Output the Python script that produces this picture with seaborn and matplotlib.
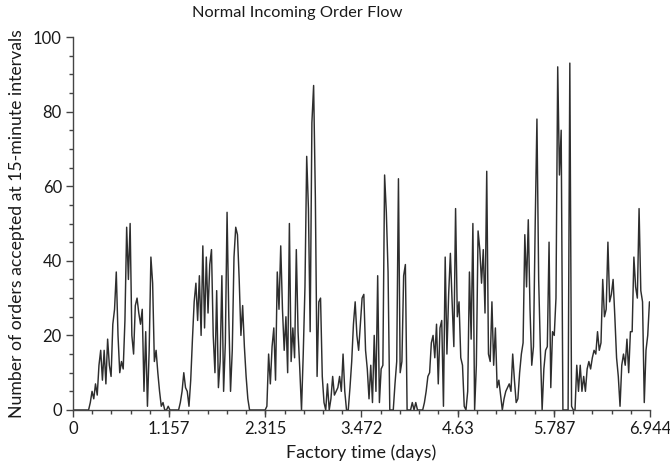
import numpy as np
import pandas as pd
import matplotlib
matplotlib.use("Agg")
import matplotlib.pyplot as plt
import seaborn as sns
from matplotlib.ticker import MultipleLocator, FixedLocator

# Orders accepted at 30-minute steps, one list per day
day0 = [0, 0, 0, 0, 0, 0, 0, 0, 0, 0, 2, 5, 3, 7, 4, 12, 16, 8, 16,
        7, 19, 12, 9, 23, 27, 37, 20, 10, 13, 11, 24, 49, 35, 50, 20, 15, 28, 30, 26,
        23, 27, 5, 21, 1, 16, 41, 34, 13]
day1 = [16, 10, 5, 1, 2, 0, 0, 1, 0, 0, 0, 0, 0, 0, 2, 5, 10, 6, 5, 1,
        8, 19, 29, 34, 24, 36, 20, 44, 22, 41, 26, 39, 43, 20, 10, 32, 6, 13, 36, 5,
        18, 53, 25, 5, 16, 41, 49, 47]
day2 = [35, 20, 28, 17, 9, 3, 0, 0, 0, 0, 0, 0, 0, 0, 0, 0,
        1, 15, 7, 17, 22, 8, 37, 27, 44, 27, 16, 25, 10, 50, 13, 22, 14, 43, 21, 11,
        0, 15, 33, 68, 54, 21, 77, 87, 57, 9, 29, 30]
day3 = [9, 2, 0, 7, 0, 3, 9, 4, 5, 6, 9, 5, 15, 5, 0, 0, 6, 13, 23, 29,
        20, 16, 23, 30, 31, 16, 11, 3, 12, 2, 20, 5, 36, 2, 11, 12, 63, 53, 37, 0,
        0, 0, 7, 13, 62, 10, 13, 36]
day4 = [39, 0, 0, 0, 2, 0, 2, 0, 0, 0, 0, 2, 5, 9, 10, 18, 20, 14, 23, 7,
        22, 24, 1, 41, 15, 31, 42, 29, 17, 54, 25, 29, 14, 12, 1, 0, 5, 37, 19, 50,
        0, 12, 48, 43, 34, 43, 26, 64]
day5 = [15, 13, 29, 12, 22, 6, 8, 4, 0, 3, 5, 6, 7, 5, 15, 8, 2, 3, 10, 15,
        18, 47, 33, 51, 27, 12, 17, 50, 78, 35, 16, 0, 11, 16, 17, 45, 6, 21, 20, 30,
        92, 63, 75, 0, 0, 0, 0, 93]
day6 = [1, 0, 0, 12, 5, 12, 5, 9, 5, 11, 13, 11, 14, 16, 15, 21, 16, 18, 35, 25,
        27, 45, 29, 31, 35, 25, 14, 9, 1, 12, 15, 12, 19, 10, 21, 21, 41, 33, 30, 54,
        32, 29, 2, 16, 20, 29]

xtick_values = [0, 1.157, 2.315, 3.472, 4.63, 5.787, 6.944]
xtick_labels = ["0", "1.157", "2.315", "3.472", "4.63", "5.787", "6.944"]
ytick_values = [0, 20, 40, 60, 80, 100]

orders = day0 + day1 + day2 + day3 + day4 + day5 + day6
days = np.arange(len(orders)) / 48.0
df = pd.DataFrame({"days": days, "orders": orders})

sns.set_theme(style="ticks")
plt.rcParams["font.family"] = ["Lato", "DejaVu Sans"]

fig = plt.figure(figsize=(6.7, 4.7), dpi=100)
ax = fig.add_axes([73 / 670, 60 / 470, 577 / 670, 373 / 470])

sns.lineplot(data=df, x="days", y="orders", ax=ax, color="#2e2e2e",
             linewidth=1.05, estimator=None)

ax.set_xlim(0, 6.944)
ax.set_ylim(0, 100)
ax.xaxis.set_major_locator(FixedLocator(xtick_values))
ax.set_xticklabels(xtick_labels)
ax.xaxis.set_minor_locator(MultipleLocator(6.944 / 30))
ax.yaxis.set_major_locator(FixedLocator(ytick_values))
ax.yaxis.set_minor_locator(MultipleLocator(5))

for side in ["top", "right"]:
    ax.spines[side].set_visible(False)
for side in ["left", "bottom"]:
    ax.spines[side].set_color("#444444")
    ax.spines[side].set_linewidth(1.0)

ax.tick_params(axis="both", which="major", direction="out", length=5, width=1,
               color="#444444", labelsize=12, labelcolor="#1a1a1a", pad=3)
ax.tick_params(axis="both", which="minor", direction="out", length=3, width=1,
               color="#444444")

ax.set_xlabel("Factory time (days)", fontsize=13, color="#1a1a1a", labelpad=5)
ax.set_ylabel("Number of orders accepted at 15-minute intervals", fontsize=12.7,
              color="#1a1a1a", labelpad=6)
fig.text(297 / 670, 1 - 13 / 470, "Normal Incoming Order Flow", ha="center",
         va="center", fontsize=11.8, color="#1a1a1a")

fig.savefig("out.png", dpi=100)
